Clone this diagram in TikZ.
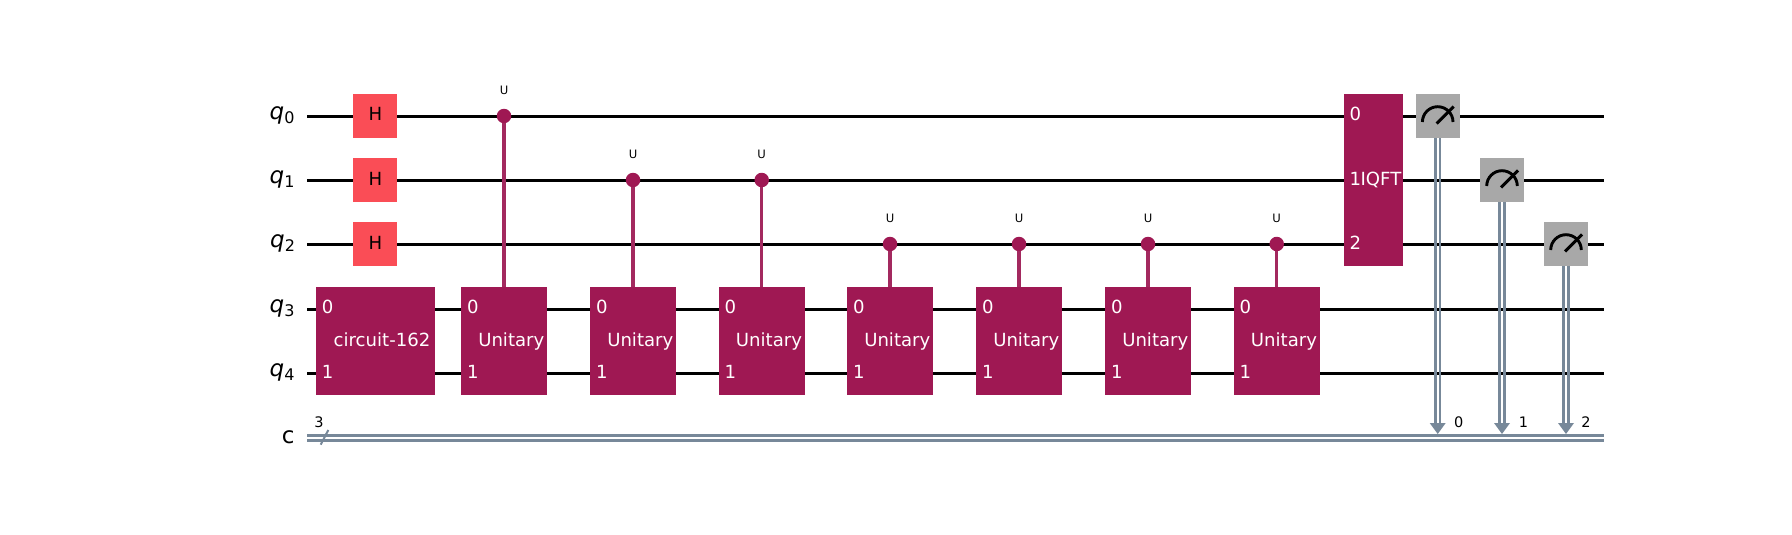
\documentclass[tikz,border=0pt]{standalone}
\usepackage{fontspec}
\setmainfont{DejaVu Sans}
\definecolor{qpurple}{HTML}{9F1853}
\definecolor{qctrl}{HTML}{A3295F}
\definecolor{qred}{HTML}{FA4D56}
\definecolor{qgray}{HTML}{A8A8A8}
\definecolor{qbus}{HTML}{778899}
\newcommand{\fsz}[1]{\fontsize{#1}{#1}\selectfont}
\newcommand{\qname}[1]{\textit{q}\raisebox{-4pt}{\fsz{16}#1}}
\tikzset{
  wire/.style={draw=black,line width=3pt},
  buswire/.style={draw=qbus,line width=2.7pt},
  ctrlline/.style={draw=qctrl,line width=3.2pt},
  gbox/.style={fill=qpurple,inner sep=0pt,outer sep=0pt,minimum width=#1,minimum height=108pt},
  hbox/.style={fill=qred,inner sep=0pt,outer sep=0pt,minimum width=44pt,minimum height=44pt},
  mbox/.style={fill=qgray,inner sep=0pt,outer sep=0pt,minimum width=44pt,minimum height=44pt,
    path picture={
      \draw[black,line width=2.9pt]
        ([xshift=-15.3pt,yshift=-6pt]path picture bounding box.center)
        arc[start angle=180,end angle=0,radius=15.3pt];
      \draw[black,line width=2.9pt]
        ([xshift=-1pt,yshift=-7.5pt]path picture bounding box.center)
        -- ([xshift=16pt,yshift=9.5pt]path picture bounding box.center);
    }},
  dot/.style={circle,fill=qpurple,inner sep=0pt,outer sep=0pt,minimum size=14.5pt},
  txt/.style={inner sep=0pt,outer sep=0pt,anchor=base},
  wlabel/.style={txt,text=white,font=\fsz{18.1}},
  wnum/.style={txt,anchor=base west,text=white,font=\fsz{18.1}},
  hlabel/.style={txt,text=black,font=\fsz{18.1}},
  ulabel/.style={txt,text=black,font=\fsz{11.6}},
  clabel/.style={txt,text=black,font=\fsz{14.5}},
  qlabel/.style={txt,anchor=base east,text=black,font=\fsz{23}},
}
\begin{document}
\begin{tikzpicture}[x=1pt,y=-1pt]
\useasboundingbox (0,0) rectangle (1792,535);
% wires
\foreach \n/\yy in {0/116.3,1/180.3,2/244.3,3/309.3,4/373.3}{
  \coordinate (wl\n) at (307,\yy);
  \coordinate (wr\n) at (1604,\yy);
  \draw[wire] (wl\n) -- (wr\n);
}
\coordinate (bl0) at (307,435.4);
\coordinate (br0) at (1604,435.4);
\coordinate (bl1) at (307,440.3);
\coordinate (br1) at (1604,440.3);
\draw[buswire] (bl0) -- (br0);
\draw[buswire] (bl1) -- (br1);
% bus slash and width
\coordinate (sa) at (320.7,444.7);
\coordinate (sb) at (328.3,430);
\draw[draw=qbus,line width=2pt] (sa) -- (sb);
\node[clabel] (cw) at (319,427.7) {3};
% wire names
\node[qlabel] (q0) at (294.5,119.3) {\qname{0}};
\node[qlabel] (q1) at (294.5,183.3) {\qname{1}};
\node[qlabel] (q2) at (295,247.3) {\qname{2}};
\node[qlabel] (q3) at (294.5,312.3) {\qname{3}};
\node[qlabel] (q4) at (294.5,376.3) {\qname{4}};
\node[qlabel] (qc) at (294.5,443.7) {c};
% H gates
\foreach \n/\yy in {0/116,1/180,2/244}{
  \node[hbox] (h\n) at (375,\yy) {};
  \node[hlabel] (ht\n) at (375.5,\yy+5) {H};
}
% circuit-162
\node[gbox=119pt] (circ) at (375.5,341) {};
\node[wnum] (circ0) at (321.8,313.8) {0};
\node[wnum] (circ1) at (321.8,378.3) {1};
\node[wlabel] (circt) at (382,346.3) {circuit-162};
% controlled unitaries
\foreach \n/\xx/\qq/\yy in {0/504/0/116,1/633/1/180,2/761.7/1/180,3/890/2/244,4/1019/2/244,5/1148/2/244,6/1276.7/2/244}{
  \node[gbox=86pt] (u\n) at (\xx,341) {};
  \node[dot] (d\n) at (\xx,\yy) {};
  \draw[ctrlline] (d\n) -- (u\n.north);
  \node[wnum] (un\n a) at (\xx-37,313.8) {0};
  \node[wnum] (un\n b) at (\xx-37,378.3) {1};
  \node[wlabel] (ut\n) at (\xx+7.3,346.3) {Unitary};
  \node[ulabel] (ul\n) at (\xx,\yy-21.5) {U};
}
% IQFT
\node[fill=qpurple,inner sep=0pt,outer sep=0pt,minimum width=59pt,minimum height=172pt] (iqft) at (1373.5,180) {};
\node[wnum] (iq0) at (1349.5,120.8) {0};
\node[wnum] (iq1) at (1349.5,185) {1};
\node[wnum] (iq2) at (1349.5,249.2) {2};
\node[wlabel] (iqt) at (1381,185) {IQFT};
% measurements
\foreach \n/\xx/\yy/\ll in {0/1437.7/116/1458.7,1/1502/180/1523.5,2/1566/244/1586}{
  \coordinate (a\n) at (\xx,434);
  \coordinate (ab\n) at (\xx,423);
  \node[mbox] (m\n) at (\xx,\yy) {};
  \draw[buswire] ([xshift=-2.35pt]m\n.south) -- ([xshift=-2.35pt]ab\n);
  \draw[buswire] ([xshift=2.35pt]m\n.south) -- ([xshift=2.35pt]ab\n);
  \fill[qbus] (a\n) -- ([xshift=-8pt]ab\n) -- ([xshift=8pt]ab\n) -- cycle;
  \node[clabel] (cl\n) at (\ll,427.7) {\n};
}
\end{tikzpicture}
\end{document}
